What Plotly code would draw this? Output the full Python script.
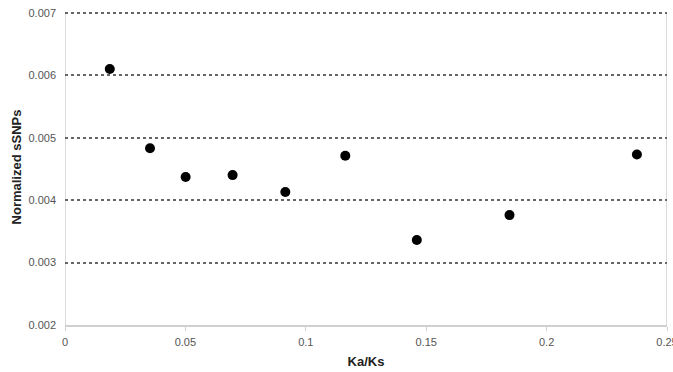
import plotly.graph_objects as go

ka_ks = [0.0186, 0.0353, 0.0501, 0.0696, 0.0915, 0.1164, 0.1461, 0.1846, 0.2375]
norm_ssnps = [0.00610, 0.00483, 0.00437, 0.00440, 0.00413, 0.00471, 0.00336, 0.00376, 0.00473]

x_ticks = [0, 0.05, 0.1, 0.15, 0.2, 0.25]
x_ticktext = ["0", "0.05", "0.1", "0.15", "0.2", "0.25"]
y_ticks = [0.002, 0.003, 0.004, 0.005, 0.006, 0.007]
y_ticktext = ["0.002", "0.003", "0.004", "0.005", "0.006", "0.007"]

x_min, x_max = x_ticks[0], x_ticks[-1]
y_min, y_max = y_ticks[0], y_ticks[-1]

fig = go.Figure()
fig.add_trace(go.Scatter(
    x=ka_ks, y=norm_ssnps, mode="markers",
    marker=dict(color="black", size=10),
    showlegend=False, cliponaxis=False,
))

fig.update_layout(
    width=673, height=372,
    margin=dict(l=65, r=6, t=9, b=47),
    paper_bgcolor="white", plot_bgcolor="white",
    font=dict(family="Liberation Sans, Arial, sans-serif", color="#555", size=11),
)
fig.update_xaxes(
    range=[x_min, x_max], tickvals=x_ticks, ticktext=x_ticktext,
    showgrid=False, zeroline=False,
    showline=True, linecolor="#d0d0d0", linewidth=1.5, mirror=False,
    ticks="outside", ticklen=4, tickcolor="#d0d0d0", tickwidth=1,
    ticklabelstandoff=2, ticklabeloverflow="allow",
    tickfont=dict(size=11, color="#555"),
    title=dict(text="<b>Ka/Ks</b>", font=dict(size=13, color="#222"), standoff=10),
    automargin=False,
)
fig.update_yaxes(
    range=[y_min, 0.00706], tickvals=y_ticks, ticktext=y_ticktext,
    showgrid=True, gridcolor="#666", griddash="dot", gridwidth=1.5,
    zeroline=False, showline=False,
    ticks="", ticklabelstandoff=8,
    tickfont=dict(size=11, color="#555"),
    title=dict(text="<b>Normalized sSNPs</b>", font=dict(size=13, color="#222"), standoff=3),
    automargin=False,
)
for xv in (x_min, x_max):
    fig.add_shape(type="line", xref="x", yref="y", x0=xv, x1=xv, y0=y_min, y1=y_max,
                  line=dict(color="#d0d0d0", width=1.5), layer="below")

fig.write_html("out.html", config={"displayModeBar": False},
               post_script="document.body.style.margin='0';document.body.style.padding='0';")
